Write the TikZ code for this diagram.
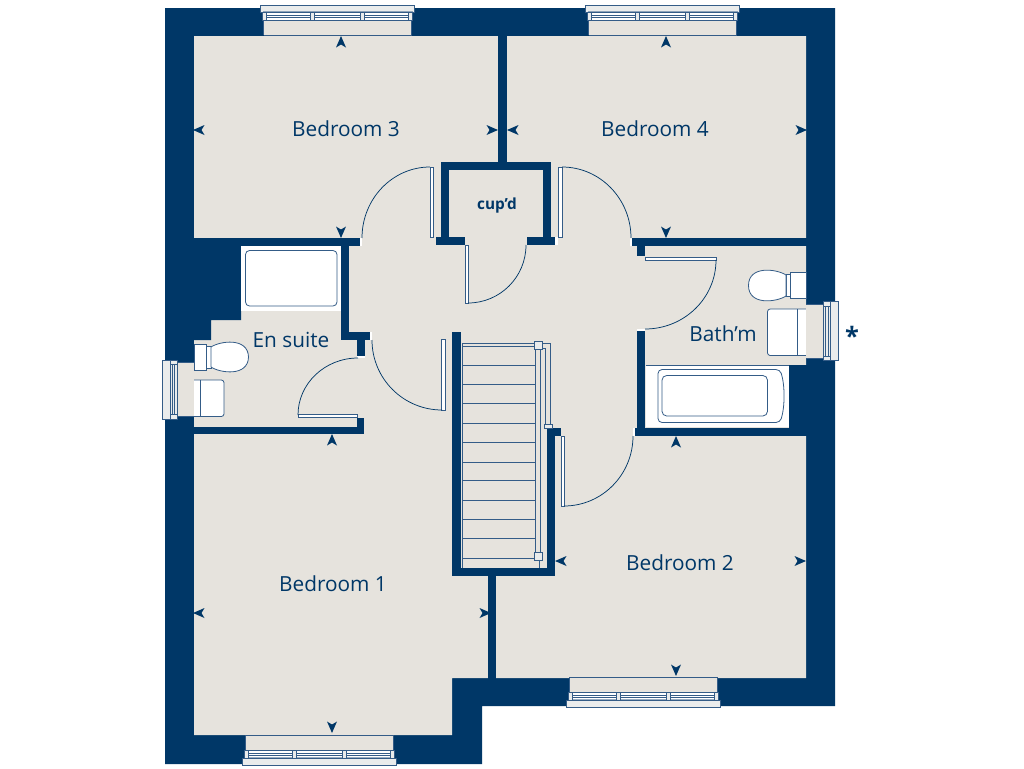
\documentclass[tikz,border=0pt]{standalone}
\usepackage{fontspec}
\setmainfont{Open Sans}
\definecolor{wallblue}{RGB}{0,55,103}
\definecolor{floorgrey}{RGB}{230,227,221}
\definecolor{fitline}{RGB}{52,92,135}
\definecolor{sillgrey}{RGB}{234,236,236}
\tikzset{
  wall/.style={fill=wallblue},
  fitting/.style={draw=fitline,line width=0.6pt,fill=white},
  leaf/.style={draw=fitline,line width=0.5pt,fill=white},
  swing/.style={draw=wallblue,line width=0.55pt},
  tread/.style={draw=fitline,line width=0.55pt},
  roomlabel/.style={text=wallblue,inner sep=0.75pt,font=\fontsize{15.6}{17}\selectfont},
  dart/.pic={\fill[wallblue] (0,-6) -- (5,5.5) -- (0,2.5) -- (-5,5.5) -- cycle;},
  casement/.pic={
    \fill[floorgrey] (-74,15) rectangle (74,30);
    \draw[fitline,line width=0.5pt] (-74,15) -- (-74,30) (74,15) -- (74,30) (-74,30) -- (74,30);
    \draw[fitline,line width=0.6pt,fill=sillgrey] (-77,0) rectangle (77,7);
    \draw[fitline,line width=0.5pt,fill=white] (-75,7) rectangle (75,15);
    \draw[fitline,line width=0.8pt,opacity=0.5] (-75,7) -- (75,7);
    \draw[fitline,line width=0.5pt] (-71,10) -- (71,10) (-71,12) -- (71,12);
    \draw[fitline,line width=0.5pt,fill=sillgrey] (-75,7) rectangle (-71,15);
    \draw[fitline,line width=0.5pt,fill=sillgrey] (71,7) rectangle (75,15);
    \draw[fitline,line width=0.5pt,fill=sillgrey] (-27,7) rectangle (-23,15);
    \draw[fitline,line width=0.5pt,fill=sillgrey] (23,7) rectangle (27,15);
  },
  sidelight/.pic={
    \fill[floorgrey] (-27,15) rectangle (27,32);
    \draw[fitline,line width=0.5pt] (-27,15) -- (-27,32) (27,15) -- (27,32);
    \draw[fitline,line width=0.6pt,fill=sillgrey] (-29.5,0) rectangle (29.5,15);
    \draw[fitline,line width=0.5pt] (-29.5,8) -- (29.5,8);
    \draw[fitline,line width=0.5pt] (-25,10) -- (25,10) (-25,12.5) -- (25,12.5);
    \draw[fitline,line width=0.5pt] (-25,8) -- (-25,15) (25,8) -- (25,15);
  }
}

\begin{document}
\begin{tikzpicture}[x=0.75pt,y=0.75pt,yscale=-1,xscale=1]
\useasboundingbox (0,0) rectangle (1024,768);

%Shape: outer walls
\fill[wall] (165,8) -- (835,8) -- (835,706) -- (482,706) -- (482,764) -- (165,764) -- cycle;
\fill[floorgrey] (194,36) -- (806,36) -- (806,678) -- (452,678) -- (452,735) -- (194,735) -- cycle;

%Shape: inner walls
\fill[wall] (498,33) rectangle (507,162);
\fill[wall] (441,162) rectangle (551,170);
\fill[wall] (441,162) rectangle (449,245);
\fill[wall] (543,162) rectangle (551,245);
\fill[wall] (436,237) rectangle (465,245);
\fill[wall] (527,237) rectangle (555,245);
\fill[wall] (190,238) rectangle (360,246);
\fill[wall] (632,238) rectangle (810,246);
\fill[wall] (637,246) rectangle (645,256);
\fill[wall] (190,238) -- (241,238) -- (241,320) -- (211,320) -- (211,340) -- (190,340) -- cycle;
\fill[wall] (341,246) rectangle (349,340);
\fill[wall] (341,332) rectangle (370,340);
\fill[wall] (357,332) rectangle (365,356);
\fill[wall] (190,427) rectangle (364,434);
\fill[wall] (357,418) rectangle (364,434);
\fill[wall] (452,332) rectangle (461,576);
\fill[wall] (452,568) rectangle (555,576);
\fill[wall] (547,428) rectangle (555,576);
\fill[wall] (555,428) rectangle (561,436);
\fill[wall] (488,576) rectangle (496,681);
\fill[wall] (637,331) rectangle (645,436);
\fill[wall] (635,428) rectangle (810,436);
\fill[wall] (789,365) rectangle (810,428);

%Shape: door jambs
\fill[white] (360,238) rectangle (362,246);
\fill[white] (370,332) rectangle (372,340);
\fill[white] (357,356) rectangle (365,358);
\fill[white] (555,237) rectangle (558,245);
\fill[white] (630,238) rectangle (632,246);
\fill[white] (633,428) rectangle (635,436);
\fill[white] (637,329) rectangle (645,331);

%Shape: door leaves
\draw[leaf] (430,167) rectangle (433.5,237);
\draw[leaf] (558.5,167) rectangle (562,237);
\draw[leaf] (465.5,245) rectangle (468.5,303);
\draw[leaf] (298,414) rectangle (357,417);
\draw[leaf] (441.5,339) rectangle (445,410);
\draw[leaf] (561,436) rectangle (564.5,506);
\draw[leaf] (645,257) rectangle (716,260);
%Shape: door swings
\draw[swing] (430,167) arc[start angle=90,end angle=180,x radius=68,y radius=-71];
\draw[swing] (562,167) arc[start angle=90,end angle=0,x radius=69,y radius=-71];
\draw[swing] (468,303) arc[start angle=-90,end angle=0,x radius=58,y radius=-58];
\draw[swing] (358,358) arc[start angle=90,end angle=180,x radius=60,y radius=-57];
\draw[swing] (372,340) arc[start angle=180,end angle=270,x radius=70,y radius=-70];
\draw[swing] (564,506) arc[start angle=-90,end angle=0,x radius=69,y radius=-70];
\draw[swing] (716,260) arc[start angle=0,end angle=-90,x radius=71,y radius=-69];

%Shape: stairs
\draw[tread] (462,343) -- (535,343);
\draw[tread] (462,346.5) -- (535,346.5);
\draw[tread] (462,365) -- (535,365);
\draw[tread] (462,384.5) -- (535,384.5);
\draw[tread] (462,403) -- (535,403);
\draw[tread] (462,423) -- (535,423);
\draw[tread] (462,442.5) -- (535,442.5);
\draw[tread] (462,462) -- (535,462);
\draw[tread] (462,480.5) -- (535,480.5);
\draw[tread] (462,500.5) -- (535,500.5);
\draw[tread] (462,519.5) -- (535,519.5);
\draw[tread] (462,538.5) -- (535,538.5);
\draw[tread] (462,558.5) -- (535,558.5);
\draw[tread] (462,343) -- (462,568);
\draw[tread] (535.5,345) rectangle (540.5,556);
\draw[tread] (539,552) -- (539,568);
\draw[tread] (542,343) -- (550.5,343) -- (550.5,426);
\draw[tread] (542,348) -- (545.5,348) -- (545.5,426);
\draw[tread,fill=sillgrey] (534.5,341.5) rectangle (542,349.5);
\draw[tread,fill=sillgrey] (534.5,552.5) rectangle (542,560);
\draw[tread,fill=sillgrey] (544.5,424.5) rectangle (552.5,428.5);

%Shape: baths
\fill[white] (241,246) rectangle (341,311);
\draw[fitting,rounded corners=3pt] (245.5,250.5) rectangle (337,306);
\fill[white] (645.5,365) rectangle (789,427);
\draw[fitline,line width=0.6pt] (645.5,365) -- (789,365);
\draw[fitting,rounded corners=3pt] (658,369.5) -- (780,369.5) .. controls (785,385) and (785,407) .. (780,422.5) -- (658,422.5) -- cycle;
\draw[fitting,rounded corners=3.5pt] (662,375.5) rectangle (767.5,416);

%Shape: en suite fittings
\draw[fitting] (194,344) rectangle (206,370.5);
\draw[fitting] (206,346) rectangle (211,368);
\draw[fitting] (211,347) .. controls (220,341) and (248,337) .. (248.5,357) .. controls (248,377) and (220,373) .. (211,367) -- cycle;
\draw[fitting,rounded corners=2pt] (194,380) -- (224,380) -- (224,416.5) -- (194,416.5);
\draw[fitline,line width=0.6pt] (200,380) -- (200,416.5);

%Shape: bathroom fittings
\draw[fitting] (790,272.5) rectangle (806,298);
\draw[fitting] (786,274) rectangle (790,296.5);
\draw[fitting] (786,275) .. controls (777,269) and (748.5,265) .. (748.5,285.5) .. controls (748.5,306) and (777,302) .. (786,296) -- cycle;
\draw[fitting,rounded corners=2pt] (806,309) -- (767.5,309) -- (767.5,355.5) -- (806,355.5);
\draw[fitline,line width=0.6pt] (797.5,309) -- (797.5,355.5);

%Shape: windows
\pic[rotate=180] at (337.5,5) {casement};
\pic[rotate=180] at (662.5,5) {casement};
\pic at (643.5,707) {casement};
\pic at (319,765) {casement};
\pic[rotate=-90] at (162,389.5) {sidelight};
\pic[rotate=90] at (838,331) {sidelight};

%Shape: dimension marks
\pic[rotate=180] at (341,42) {dart};
\pic[rotate=-90] at (199,130) {dart};
\pic[rotate=90] at (492,130) {dart};
\pic at (341,232) {dart};
\pic[rotate=180] at (666,42) {dart};
\pic[rotate=-90] at (513,130) {dart};
\pic[rotate=90] at (801,130) {dart};
\pic at (666,232) {dart};
\pic[rotate=180] at (676,442) {dart};
\pic[rotate=-90] at (561,561) {dart};
\pic[rotate=90] at (800,561) {dart};
\pic at (676,670) {dart};
\pic[rotate=180] at (332,440) {dart};
\pic[rotate=-90] at (199,613) {dart};
\pic[rotate=90] at (485,613) {dart};
\pic at (332,727) {dart};

% Text Node
\node[roomlabel] (bedthree) at (346,129) {Bedroom 3};
\node[roomlabel] (bedfour) at (655,129) {Bedroom 4};
\node[roomlabel] (bedone) at (333,584) {Bedroom 1};
\node[roomlabel] (bedtwo) at (680,563) {Bedroom 2};
\node[roomlabel] (ensuite) at (291,340) {En suite};
\node[roomlabel] (bathm) at (723,334) {Bath’m};
\node[roomlabel,font=\fontsize{11.5}{13}\selectfont\bfseries] (cupd) at (497,206) {cup’d};
\node[roomlabel,font=\fontsize{19}{20}\selectfont\bfseries] (star) at (852,336) {*};
\end{tikzpicture}
\end{document}
